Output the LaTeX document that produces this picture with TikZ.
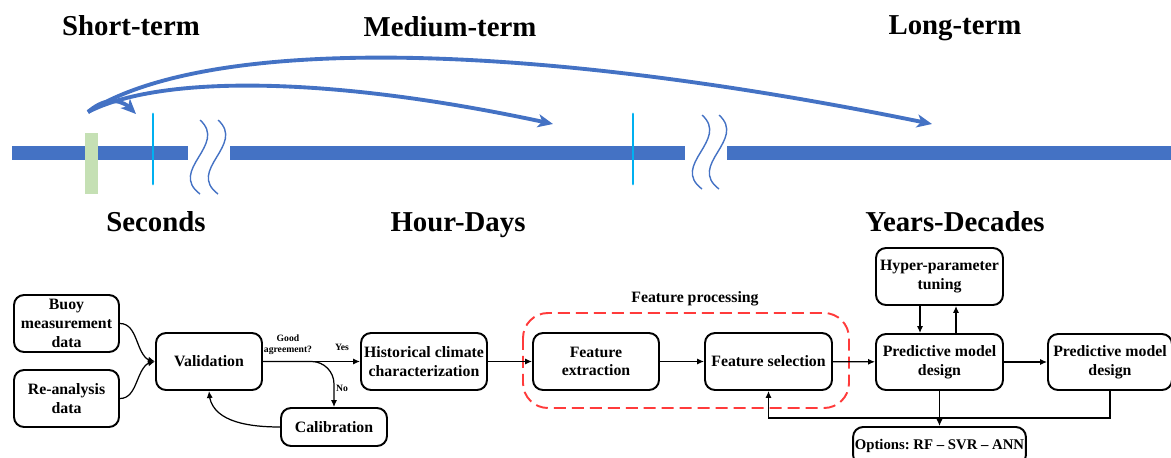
\documentclass[tikz,border=0pt]{standalone}
\usepackage{fontspec}
\setmainfont{Liberation Serif}
\usetikzlibrary{positioning}
\usetikzlibrary{arrows.meta}
\usetikzlibrary{bending}
\definecolor{barblue}{HTML}{4472C4}
\definecolor{tickcyan}{HTML}{00B0F0}
\definecolor{markgreen}{HTML}{C5E0B4}
\definecolor{procred}{HTML}{FF3B3B}
\tikzset{
    box/.style = {rectangle, rounded corners=0.2cm, draw=black, line width=1.1pt, align=center, inner sep=1pt, font=\bfseries\fontsize{9}{10.6}\selectfont},
    scalelab/.style = {anchor=base, font=\bfseries\fontsize{16.4}{19}\selectfont},
    smalllab/.style = {align=center, font=\bfseries\fontsize{5.5}{6.4}\selectfont},
    proclab/.style = {font=\bfseries\fontsize{9}{10.6}\selectfont},
    conn/.style = {-{Latex[length=4pt,width=3.5pt]}, line width=0.7pt},
    timearc/.style = {-{Stealth[length=0.3cm,width=0.26cm,inset=0.08cm,flex]}, line width=2.2pt, draw=barblue},
    barseg/.style = {fill=barblue},
    wavel/.style = {draw=barblue, line width=0.8pt},
    cyantick/.style = {draw=tickcyan, line width=1.6pt, line cap=round},
    procbox/.style = {draw=procred, dash pattern=on 0.24cm off 0.12cm, line width=1.1pt, rounded corners=0.5cm}
}

\begin{document}
\frenchspacing
\begin{tikzpicture}[x=0.02cm, y=-0.02cm]
\useasboundingbox (0,0) rectangle (1171,457);
% time scale
\fill[barseg] (12,146) rectangle (188,160);
\fill[barseg] (230,146) rectangle (685,160);
\fill[barseg] (727,146) rectangle (1171,160);
\fill[markgreen] (85,133) rectangle (98,194);
\draw[cyantick] (153,114) -- (153,184);
\draw[cyantick] (633,114) -- (633,184);
\foreach \dx/\dy in {0/0, 18/0, 502/-5, 519/-5}
  \draw[wavel, shift={(\dx,\dy)}] (200,120) .. controls (228,145) and (168,170) .. (200,194);
%
\node[scalelab] at (131,35) (short) {Short-term};
\node[scalelab] at (450,36) (medium) {Medium-term};
\node[scalelab] at (955,34) (long) {Long-term};
\node[scalelab] at (156,231) (sec) {Seconds};
\node[scalelab] at (458,231) (hours) {Hour-Days};
\node[scalelab] at (955,231) (years) {Years-Decades};
%
\coordinate (src) at (88,112);
\coordinate (secend) at (136,114);
\coordinate (dayend) at (553,124);
\coordinate (yearend) at (932,124);
\draw[timearc] (src) .. controls (104,98) and (122,96) .. (secend);
\draw[timearc] (src) .. controls (160,75) and (330,75) .. (dayend);
\draw[timearc] (src) .. controls (200,40) and (500,35) .. (yearend);
% flow chart
\node[box, minimum width=2.1cm, minimum height=1.14cm] at (66.5,323.5) (buoy) {Buoy\\measurement\\data};
\node[box, minimum width=2.1cm, minimum height=1.14cm] at (66.5,398.5) (reana) {Re-analysis\\data};
\node[box, minimum width=2.12cm, minimum height=1.14cm] at (209,361.5) (valid) {Validation};
\node[box, minimum width=2.52cm, minimum height=1.14cm] at (424,361.5) (hist) {Historical climate\\characterization};
\node[box, minimum width=2.12cm, minimum height=0.76cm] at (334,427) (calib) {Calibration};
\node[box, minimum width=2.52cm, minimum height=1.14cm] at (596,361.5) (fext) {Feature\\extraction};
\node[box, minimum width=2.54cm, minimum height=1.14cm] at (768.5,361.5) (fsel) {Feature selection};
\node[box, minimum width=2.54cm, minimum height=1.14cm] at (939.5,276.5) (hyper) {Hyper-parameter\\tuning};
\node[box, minimum width=2.54cm, minimum height=1.12cm] at (939.5,362) (pred1) {Predictive model\\design};
\node[box, minimum width=2.48cm, minimum height=1.12cm] at (1110,362) (pred2) {Predictive model\\design};
\node[box, minimum width=3.34cm, minimum height=0.76cm, font=\bfseries\fontsize{8.4}{10}\selectfont] at (939.5,446) (opts) {Options: RF -- SVR -- ANN};
%
\draw[procbox] (523,313) rectangle (849,408);
\node[proclab] at (695,299) (proc) {Feature processing};
\node[smalllab] at (288,345) (agree) {Good\\agreement?};
\node[smalllab] at (342,347) (yes) {Yes};
\node[smalllab] at (342,388) (no) {No};
%
\draw[conn] (buoy.east) to[out=0,in=180] (valid.west);
\draw[conn] (reana.east) to[out=0,in=180] (valid.west);
\draw[conn] (valid) -- (hist);
\draw[conn, rounded corners=0.45cm] (valid.east) -| (calib.north);
\draw[conn] (calib.west) to[out=180,in=-90] (valid.south);
\draw[conn] (hist) -- (fext);
\draw[conn] (fext) -- (fsel);
\draw[conn] (fsel) -- (pred1);
\draw[conn] (pred1) -- (pred2);
\draw[conn] ([xshift=-0.39cm]hyper.south) -- ([xshift=-0.39cm]pred1.north);
\draw[conn] ([xshift=0.33cm]pred1.north) -- ([xshift=0.33cm]hyper.south);
\draw[conn] (pred1.south) -- (opts.north);
\draw[conn] (pred2.south) -- ++(0,27) -| (fsel.south);
\end{tikzpicture}
\end{document}
